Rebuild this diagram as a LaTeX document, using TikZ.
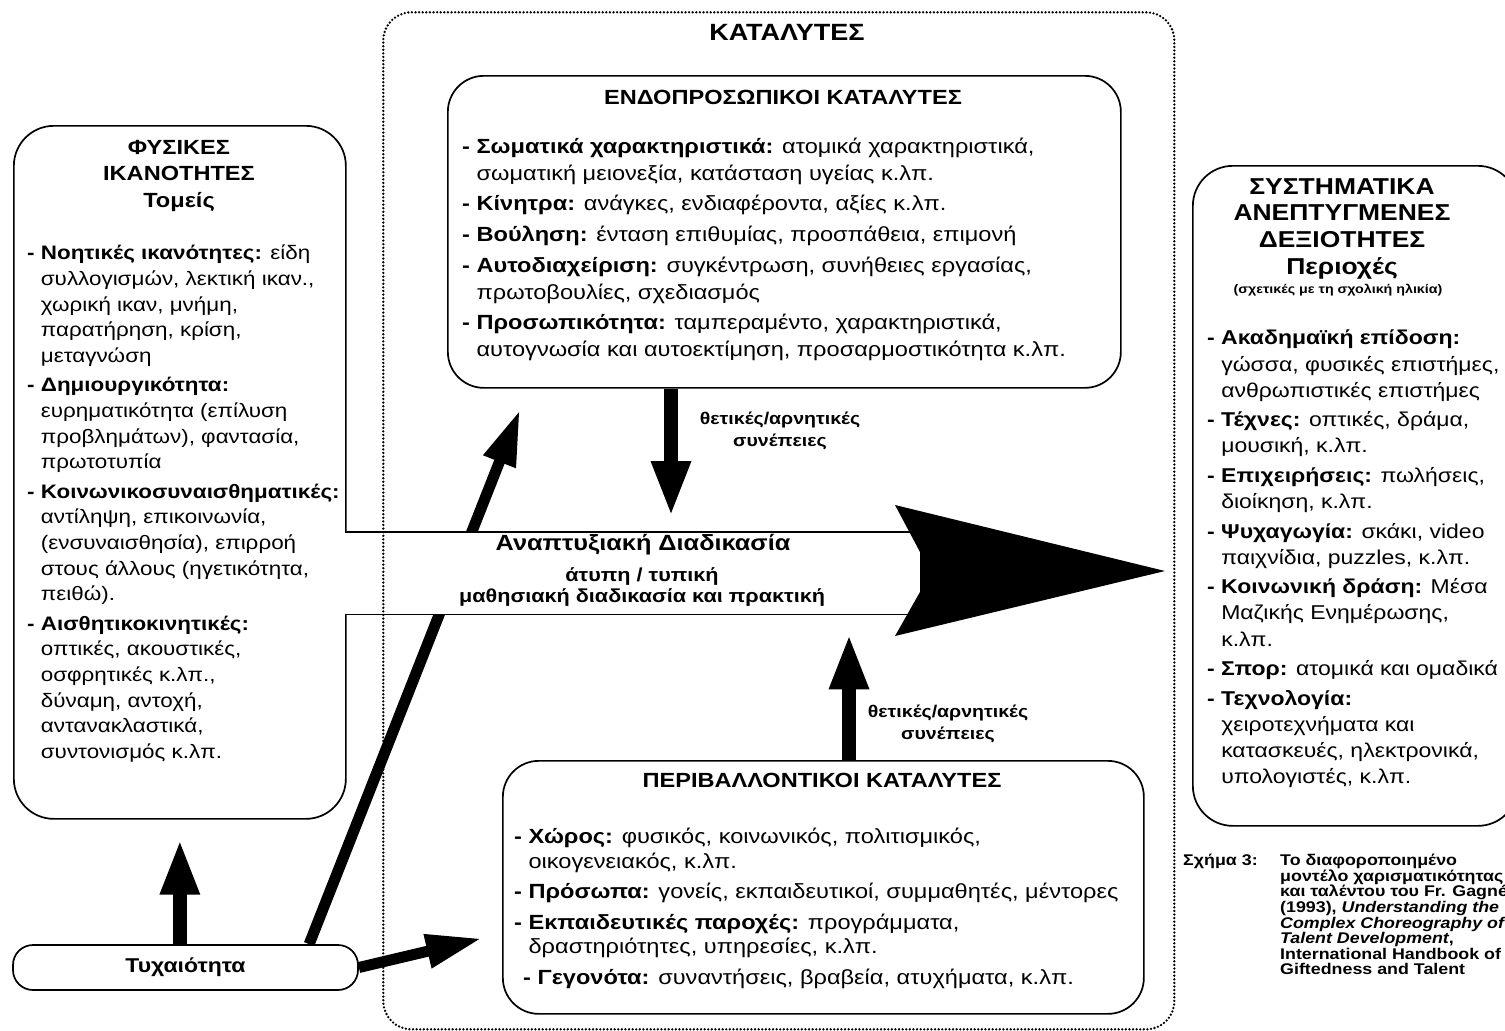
\documentclass[tikz,border=0pt]{standalone}
\usepackage{fontspec}
\setmainfont[FakeStretch=1.15]{Liberation Sans}
\usetikzlibrary{arrows.meta,calc}

\newcommand{\hd}[1]{\textbf{- #1}}
\newcommand{\ct}{\phantom{\textbf{- }}}

\begin{document}
\begin{tikzpicture}[x=1pt,y=-1pt,
  box/.style={draw,line width=1.7pt,rounded corners=36pt,inner sep=0pt,anchor=north west},
  dotbox/.style={draw,line width=2.6pt,dash pattern=on 0pt off 3.6pt,line cap=round,rounded corners=28pt,inner sep=0pt,anchor=north west},
  fat/.style={line width=14pt,-{Triangle[width=36pt,length=56pt]}},
  slim/.style={line width=11pt,-{Triangle[width=32pt,length=56pt]}},
  txt/.style={inner sep=0pt,anchor=north west,align=left,font=\fontsize{19.5}{25.6}\selectfont},
  boxtitle/.style={inner sep=0pt,anchor=north,align=center,font=\bfseries\fontsize{20.5}{26.5}\selectfont},
  lbl/.style={inner sep=0pt,align=center,font=\bfseries\fontsize{17}{22}\selectfont}]
\useasboundingbox (0,0) rectangle (1505,1031);
\fill[white] (0,0) rectangle (1505,1031);

% physical abilities
\node[box,rounded corners=40pt,minimum width=332pt,minimum height=693pt] (phys) at (13,125) {};
\node[boxtitle] (physHead) at (179,140) {ΦΥΣΙΚΕΣ\\ΙΚΑΝΟΤΗΤΕΣ\\Τομείς};
\node[txt] (physList) at (27,245) {\hd{Νοητικές ικανότητες:} είδη\\
\ct συλλογισμών, λεκτική ικαν.,\\
\ct χωρική ικαν, μνήμη,\\
\ct παρατήρηση, κρίση,\\
\ct μεταγνώση\\[4pt]
\hd{Δημιουργικότητα:}\\
\ct ευρηματικότητα (επίλυση\\
\ct προβλημάτων), φαντασία,\\
\ct πρωτοτυπία\\[4pt]
\hd{Κοινωνικοσυναισθηματικές:}\\
\ct αντίληψη, επικοινωνία,\\
\ct (ενσυναισθησία), επιρροή\\
\ct στους άλλους (ηγετικότητα,\\
\ct πειθώ).\\[4pt]
\hd{Αισθητικοκινητικές:}\\
\ct οπτικές, ακουστικές,\\
\ct οσφρητικές κ.λπ.,\\
\ct δύναμη, αντοχή,\\
\ct αντανακλαστικά,\\
\ct συντονισμός κ.λπ.};

% chance
\node[draw,line width=1.7pt,rounded corners=20pt,minimum width=345pt,minimum height=45pt,
  font=\bfseries\fontsize{20}{25}\selectfont] (chance) at (185.5,967.5) {Τυχαιότητα};
\draw[fat] (chance.north -| phys.south) -- (phys.south) [shorten >=19pt];

% intrapersonal catalysts
\node[box,minimum width=673pt,minimum height=312pt] (endo) at (447,75) {};
\node[boxtitle,font=\bfseries\fontsize{20.5}{25}\selectfont] (endoHead) at (783,90) {ΕΝΔΟΠΡΟΣΩΠΙΚΟΙ ΚΑΤΑΛΥΤΕΣ};
\node[txt,font=\fontsize{20.5}{26.5}\selectfont] (endoList) at (462,138) {\hd{Σωματικά χαρακτηριστικά:} ατομικά χαρακτηριστικά,\\
\ct σωματική μειονεξία, κατάσταση υγείας κ.λπ.\\[4.3pt]
\hd{Κίνητρα:} ανάγκες, ενδιαφέροντα, αξίες κ.λπ.\\[4.3pt]
\hd{Βούληση:} ένταση επιθυμίας, προσπάθεια, επιμονή\\[4.3pt]
\hd{Αυτοδιαχείριση:} συγκέντρωση, συνήθειες εργασίας,\\
\ct πρωτοβουλίες, σχεδιασμός\\[4.3pt]
\hd{Προσωπικότητα:} ταμπεραμέντο, χαρακτηριστικά,\\
\ct αυτογνωσία και αυτοεκτίμηση, προσαρμοστικότητα κ.λπ.};

% environmental catalysts
\node[box,minimum width=641pt,minimum height=253pt] (peri) at (502,760) {};
\node[boxtitle,font=\bfseries\fontsize{20.5}{25}\selectfont] (periHead) at (822,773) {ΠΕΡΙΒΑΛΛΟΝΤΙΚΟΙ ΚΑΤΑΛΥΤΕΣ};
\node[txt,font=\fontsize{20.5}{24.5}\selectfont] (periList) at (514,828) {\hd{Χώρος:} φυσικός, κοινωνικός, πολιτισμικός,\\
\ct οικογενειακός, κ.λπ.\\[6pt]
\hd{Πρόσωπα:} γονείς, εκπαιδευτικοί, συμμαθητές, μέντορες\\[6pt]
\hd{Εκπαιδευτικές παροχές:} προγράμματα,\\
\ct δραστηριότητες, υπηρεσίες, κ.λπ.\\[6pt]
\hspace*{9pt}\hd{Γεγονότα:} συναντήσεις, βραβεία, ατυχήματα, κ.λπ.};
\draw[slim] (chance.east) -- ($(peri.west)+(-20,51)$);

% developmental process
\draw[slim] ($(chance.north west)+(297,0)$) -- ($(endo.south west)+(73,21)$);
\node[anchor=north west,minimum width=570pt,minimum height=82pt,fill=white,inner sep=0pt] (process) at (345,532) {};
\draw[line width=1.6pt] (process.north west) -- (process.north east);
\draw[line width=1.6pt] (process.south west) -- (process.south east);
\fill (895,505) -- (1165,571) -- (895,636) -- (920,592) -- (920,552) -- cycle;
\node[font=\bfseries\fontsize{22}{25}\selectfont] (procTitle) at (643,545) {Αναπτυξιακή Διαδικασία};
\node[align=center,font=\bfseries\fontsize{18.8}{20.5}\selectfont] (procSub) at (642,587) {άτυπη / τυπική\\μαθησιακή διαδικασία και πρακτική};

% catalysts frame
\node[dotbox,minimum width=791pt,minimum height=1017pt] (cat) at (382,11) {};
\node[font=\bfseries\fontsize{23.5}{28}\selectfont] (catHead) at (787,32) {ΚΑΤΑΛΥΤΕΣ};

% consequences
\coordinate (dnX) at (671,0);
\coordinate (upX) at (849,0);
\draw[fat] (endo.south -| dnX) -- (process.north -| dnX) [shorten >=15pt];
\draw[fat] (peri.north -| upX) -- (process.south -| upX) [shorten >=19pt];
\node[lbl] (dnLbl) at (780,431) {θετικές/αρνητικές\\συνέπειες};
\node[lbl] (upLbl) at (948,724) {θετικές/αρνητικές\\συνέπειες};

% developed skills
\node[box,rounded corners=40pt,minimum width=325pt,minimum height=660pt] (skills) at (1192,165) {};
\node[boxtitle,font=\bfseries\fontsize{23}{26.7}\selectfont] (skillsHead) at (1342,178) {ΣΥΣΤΗΜΑΤΙΚΑ\\ΑΝΕΠΤΥΓΜΕΝΕΣ\\ΔΕΞΙΟΤΗΤΕΣ\\Περιοχές};
\node[font=\bfseries\fontsize{12.4}{14}\selectfont] (skillsNote) at (1338,290) {(σχετικές με τη σχολική ηλικία)};
\node[txt,font=\fontsize{20}{26.1}\selectfont] (skillsList) at (1207,330) {\hd{Ακαδημαϊκή επίδοση:}\\
\ct γώσσα, φυσικές επιστήμες,\\
\ct ανθρωπιστικές επιστήμες\\[3.5pt]
\hd{Τέχνες:} οπτικές, δράμα,\\
\ct μουσική, κ.λπ.\\[3.5pt]
\hd{Επιχειρήσεις:} πωλήσεις,\\
\ct διοίκηση, κ.λπ.\\[3.5pt]
\hd{Ψυχαγωγία:} σκάκι, video\\
\ct παιχνίδια, puzzles, κ.λπ.\\[3.5pt]
\hd{Κοινωνική δράση:} Μέσα\\
\ct Μαζικής Ενημέρωσης,\\
\ct κ.λπ.\\[3.5pt]
\hd{Σπορ:} ατομικά και ομαδικά\\[3.5pt]
\hd{Τεχνολογία:}\\
\ct χειροτεχνήματα και\\
\ct κατασκευές, ηλεκτρονικά,\\
\ct υπολογιστές, κ.λπ.};

% caption
\node[txt,font=\bfseries\fontsize{15.5}{15.6}\selectfont] (figNo) at (1183,854) {Σχήμα 3:};
\node[txt,font=\bfseries\fontsize{15.5}{15.6}\selectfont] (figText) at (1280,854) {Το διαφοροποιημένο\\
μοντέλο χαρισματικότητας\\
και ταλέντου του Fr. Gagné\\
(1993), \textit{Understanding the}\\
\textit{Complex Choreography of}\\
\textit{Talent Development},\\
International Handbook of\\
Giftedness and Talent};
\end{tikzpicture}
\end{document}
